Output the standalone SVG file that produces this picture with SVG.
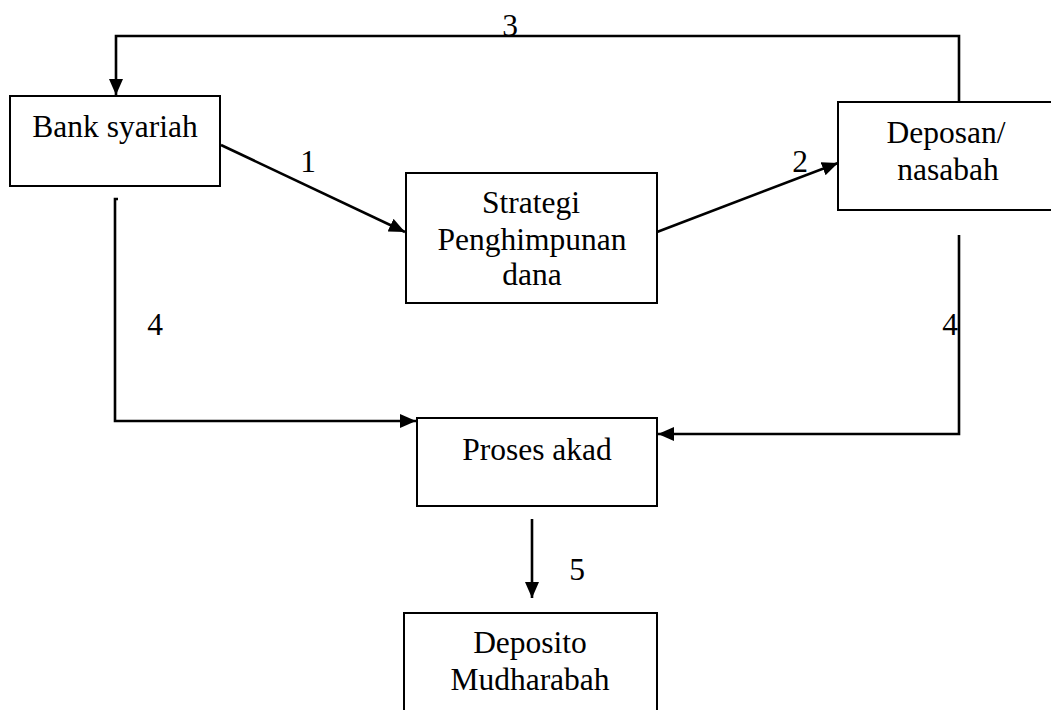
<svg xmlns="http://www.w3.org/2000/svg" width="1051" height="710" viewBox="0 0 1051 710">
<style>
.box{fill:#fff;stroke:#000;stroke-width:2}
.lbl{font-family:"Liberation Serif","Times New Roman",serif;font-size:31.5px;fill:#000;text-anchor:middle}
.con{fill:none;stroke:#000;stroke-width:2.6}
</style>
<defs>
<marker id="ah" markerUnits="userSpaceOnUse" markerWidth="16" markerHeight="14" refX="16" refY="7" orient="auto">
<path d="M0,0 L16,7 L0,14 z" fill="#000"/>
</marker>
</defs>
<rect width="1051" height="710" fill="#fff"/>
<g id="connectors">
<polyline class="con" points="959,102 959,36 116,36 116,95" marker-end="url(#ah)"/>
<line class="con" x1="221" y1="145" x2="405" y2="232" marker-end="url(#ah)"/>
<line class="con" x1="657" y1="232" x2="838" y2="163" marker-end="url(#ah)"/>
<polyline class="con" points="118,199 115,199 115,421 416,421" marker-end="url(#ah)"/>
<polyline class="con" points="959,235 959,434 658,434" marker-end="url(#ah)"/>
<line class="con" x1="532" y1="519" x2="532" y2="598" marker-end="url(#ah)"/>
<text class="lbl" x="510" y="36">3</text>
<text class="lbl" x="308" y="172">1</text>
<text class="lbl" x="800" y="172">2</text>
<text class="lbl" x="155" y="335">4</text>
<text class="lbl" x="950" y="335">4</text>
<text class="lbl" x="577" y="580">5</text>
</g>
<g id="bank-syariah">
<rect class="box" x="10" y="96" width="210" height="90"/>
<text class="lbl" x="115" y="137">Bank syariah</text>
</g>
<g id="deposan-nasabah">
<rect class="box" x="838" y="102" width="230" height="108"/>
<text class="lbl" x="946" y="143">Deposan/</text>
<text class="lbl" x="948" y="180">nasabah</text>
</g>
<g id="strategi">
<rect class="box" x="406" y="173" width="251" height="130"/>
<text class="lbl" x="531" y="213">Strategi</text>
<text class="lbl" x="532" y="250">Penghimpunan</text>
<text class="lbl" x="532" y="285">dana</text>
</g>
<g id="proses-akad">
<rect class="box" x="417" y="418" width="240" height="88"/>
<text class="lbl" x="537" y="460">Proses akad</text>
</g>
<g id="deposito-mudharabah">
<rect class="box" x="404" y="613" width="253" height="120"/>
<text class="lbl" x="530" y="653">Deposito</text>
<text class="lbl" x="530" y="690">Mudharabah</text>
</g>
</svg>
